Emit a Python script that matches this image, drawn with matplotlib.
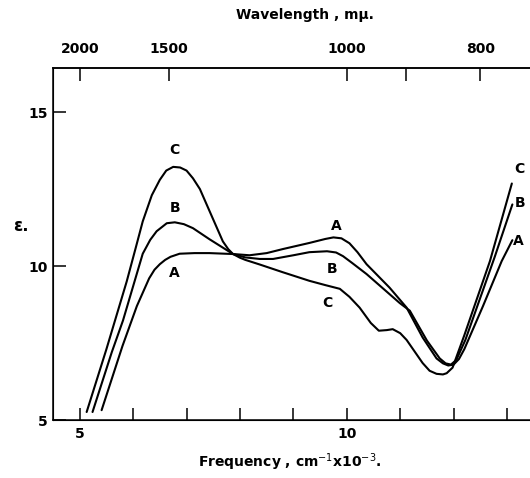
import numpy as np
import matplotlib
matplotlib.use("Agg")
import matplotlib.pyplot as plt

# curve values (frequency in 10^3 cm^-1, epsilon)
a_x = [5.41, 5.80, 6.07, 6.30, 6.40, 6.50, 6.60, 6.70, 6.87, 7.15, 7.43, 7.87, 8.18, 8.50, 8.80, 9.30,
       9.60, 9.75, 9.90, 10.05, 10.20, 10.37, 10.80, 11.12, 11.42, 11.68, 11.80, 11.90, 12.00, 12.10,
       12.20, 12.55, 12.90, 13.10]
a_y = [5.32, 7.40, 8.70, 9.60, 9.88, 10.06, 10.20, 10.30, 10.40, 10.42, 10.42, 10.39, 10.35, 10.42, 10.55, 10.75,
       10.88, 10.93, 10.90, 10.74, 10.45, 10.06, 9.30, 8.65, 7.68, 7.00, 6.84, 6.77, 6.80, 6.98,
       7.30, 8.70, 10.16, 10.84]

b_x = [5.24, 5.60, 5.81, 6.03, 6.18, 6.32, 6.44, 6.63, 6.78, 6.95, 7.12, 7.43, 7.87, 8.10, 8.37, 8.62, 9.00, 9.30,
       9.63, 9.80, 9.93, 10.10, 10.37, 10.99, 11.18, 11.50, 11.74, 11.85, 11.95, 12.05, 12.22, 12.77, 13.10]
b_y = [5.26, 7.20, 8.23, 9.52, 10.40, 10.85, 11.13, 11.39, 11.42, 11.36, 11.23, 10.87, 10.39, 10.28, 10.23, 10.23, 10.35, 10.45,
       10.48, 10.44, 10.32, 10.10, 9.74, 8.80, 8.55, 7.58, 7.00, 6.84, 6.80, 6.95, 7.60, 10.30, 12.00]

c_x = [5.13, 5.50, 5.88, 6.05, 6.18, 6.35, 6.50, 6.62, 6.75, 6.88, 7.00, 7.12, 7.25, 7.49, 7.68, 7.78, 7.87, 8.00, 8.10,
       8.37, 8.80, 9.30, 9.60, 9.87, 10.05, 10.24, 10.45, 10.60, 10.75, 10.86, 11.00, 11.12, 11.30,
       11.42, 11.55, 11.68, 11.80, 11.87, 11.98, 12.20, 12.68, 13.09]
c_y = [5.26, 7.30, 9.50, 10.60, 11.45, 12.30, 12.80, 13.10, 13.22, 13.20, 13.10, 12.85, 12.50, 11.55, 10.80, 10.55, 10.39, 10.27, 10.20,
       10.05, 9.80, 9.52, 9.38, 9.26, 9.00, 8.65, 8.15, 7.90, 7.92, 7.95, 7.82, 7.60, 7.15,
       6.85, 6.60, 6.50, 6.48, 6.52, 6.70, 7.75, 10.16, 12.68]

wavelengths = [2000, 1500, 1000, 900, 800]
wl_labels = ['2000', '1500', '1000', '', '800']

fnt = dict(fontweight='bold', fontsize=10)

fig = plt.figure(figsize=(5.30, 4.78), dpi=100)
ax = fig.add_axes([0.100, 0.1213, 0.900, 0.7364])

for xs, ys in [(a_x, a_y), (b_x, b_y), (c_x, c_y)]:
    ax.plot(xs, ys, color='black', lw=1.5, solid_joinstyle='round', solid_capstyle='round')

ax.set_xlim(4.5, 13.43)
ax.set_ylim(5.0, 16.43)

ax.set_xticks(range(5, 14))
ax.set_xticklabels(['5', '', '', '', '', '10', '', '', ''], **fnt)
ax.set_yticks([5, 10, 15])
ax.set_yticklabels(['5', '10', '15'], **fnt)
ax.tick_params(axis='x', direction='in', length=9, width=1.1, pad=5)
ax.tick_params(axis='y', direction='in', length=9, width=1.1, pad=4)
ax.spines['right'].set_visible(False)
for s in ['left', 'bottom', 'top']:
    ax.spines[s].set_linewidth(1.1)

ax2 = ax.twiny()
ax2.set_xlim(ax.get_xlim())
ax2.set_xticks([1e4 / w for w in wavelengths])
ax2.set_xticklabels(wl_labels, **fnt)
ax2.tick_params(axis='x', direction='in', length=9, width=1.1, pad=9)
ax2.spines['right'].set_visible(False)
ax2.spines['top'].set_linewidth(1.1)

# curve labels
for (x, y, t) in [(6.78, 13.77, 'C'), (6.78, 11.87, 'B'), (6.78, 9.77, 'A'),
                  (9.81, 11.29, 'A'), (9.72, 9.90, 'B'), (9.63, 8.80, 'C'),
                  (13.24, 13.16, 'C'), (13.24, 12.06, 'B'), (13.22, 10.80, 'A')]:
    ax.text(x, y, t, ha='center', va='center', **fnt)

ax.text(3.9, 11.3, 'ε.', ha='center', va='center', clip_on=False, fontsize=12, fontweight='bold')

fig.text(0.575, 0.968, 'Wavelength , mµ.', ha='center', va='center', **fnt)
fig.text(0.547, 0.033, 'Frequency , cm$^{-1}$x10$^{-3}$.', ha='center', va='center', **fnt)

fig.savefig('out.png', dpi=100)
